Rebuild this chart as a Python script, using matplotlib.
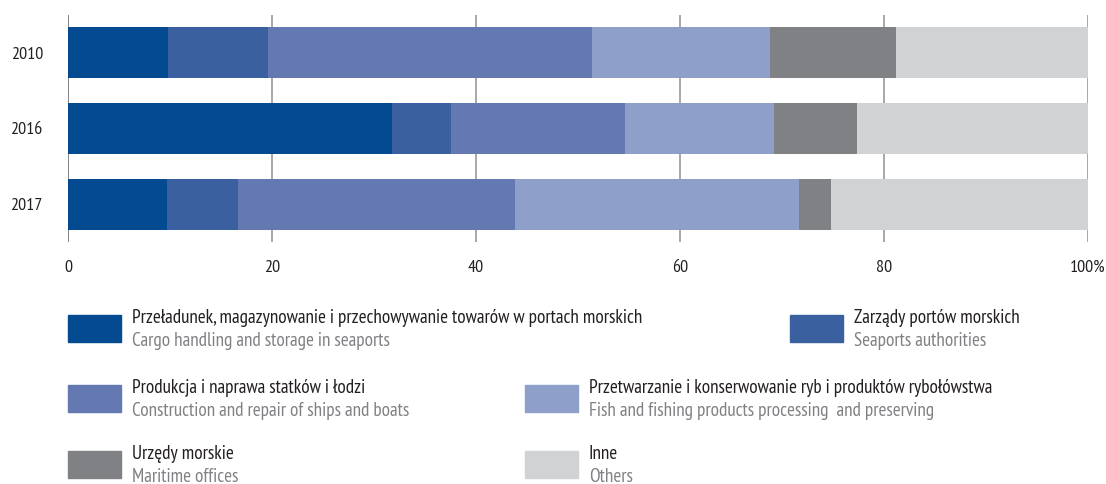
import numpy as np
import matplotlib
matplotlib.use("Agg")
import matplotlib.pyplot as plt
from matplotlib.patches import Rectangle

plt.rcParams['font.family'] = ['PT Sans Narrow', 'DejaVu Sans']

years = ['2010', '2016', '2017']

# shares in % (segments of each bar)
cargo = [9.8, 31.8, 9.7]
port_auth = [9.8, 5.8, 7.0]
ships = [31.8, 17.0, 27.1]
fish = [17.4, 14.6, 27.9]
maritime = [12.4, 8.2, 3.1]
others = [18.8, 22.6, 25.2]

labels_pl = ['Przeładunek, magazynowanie i przechowywanie towarów w portach morskich',
             'Zarządy portów morskich',
             'Produkcja i naprawa statków i łodzi',
             'Przetwarzanie i konserwowanie ryb i produktów rybołówstwa',
             'Urzędy morskie',
             'Inne']
labels_en = ['Cargo handling and storage in seaports',
             'Seaports authorities',
             'Construction and repair of ships and boats',
             'Fish and fishing products processing  and preserving',
             'Maritime offices',
             'Others']

colors = ['#034a90', '#3a60a0', '#6479b1', '#8ea0c9', '#808184', '#d1d2d4']
series = [cargo, port_auth, ships, fish, maritime, others]

W, H = 1106, 484
fig = plt.figure(figsize=(W / 100, H / 100), dpi=100)
ax = fig.add_axes([67.9 / W, 1 - 242 / H, (1088 - 67.9) / W, (242 - 15) / H])

y = np.arange(len(years))
left = np.zeros(len(years))
for vals, c in zip(series, colors):
    ax.barh(y, vals, left=left, height=0.675, color=c, zorder=2)
    left += np.array(vals)

ax.set_xlim(0, 100)
ax.set_ylim(2.5, -0.5)
ax.set_yticks(y)
ax.set_yticklabels(years)
ticks = [0, 20, 40, 60, 80, 100]
ax.set_xticks(ticks)
ax.set_xticklabels(['0', '20', '40', '60', '80', '100%'])
ax.tick_params(length=0, labelsize=13, colors='#231f20')
ax.tick_params(axis='x', pad=13)
ax.tick_params(axis='y', pad=18)
for t in ticks:
    ax.axvline(t, color='#9a9a9a' if t else '#6d6e70', lw=1.2, zorder=1)
for s in ax.spines.values():
    s.set_visible(False)

# legend built by hand
legend_pos = [(68, 315), (790, 315), (68, 385), (525, 385), (68, 451), (525, 451)]
for i, (px, py) in enumerate(legend_pos):
    fig.patches.append(Rectangle((px / W, 1 - (py + 27) / H), 53 / W, 27 / H,
                                 transform=fig.transFigure, color=colors[i]))
    tx = (px + 64) / W
    fig.text(tx, 1 - (py + 3) / H, labels_pl[i], fontsize=13.8, color='#231f20',
             va='center')
    fig.text(tx, 1 - (py + 26) / H, labels_en[i], fontsize=13.8, color='#808184',
             va='center')

fig.savefig('out.png', dpi=100)
